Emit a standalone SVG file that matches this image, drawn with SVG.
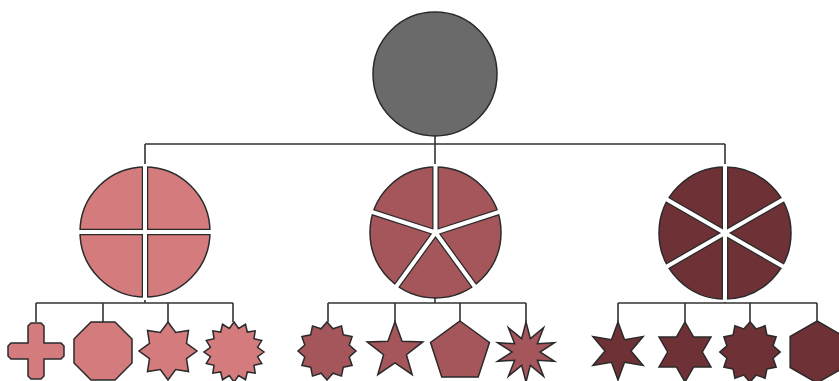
<svg xmlns="http://www.w3.org/2000/svg" width="839" height="381" viewBox="0 0 839 381">
<style>
.ln{fill:none;stroke:#333;stroke-width:1.6}
.sh{stroke:#2a2a2a;stroke-width:1.5;stroke-linejoin:miter}
.c0{fill:#6a6a6a}
.c1{fill:#d47b7d}
.c2{fill:#a5565b}
.c3{fill:#6e3136}
.gd{stroke:#2a2a2a;stroke-width:6.5;stroke-linecap:butt;fill:none}
.gw{stroke:#fff;stroke-width:4;stroke-linecap:butt;fill:none}
</style>
<defs>
<polygon id="cross" points="-8,-25 -5,-28 5,-28 8,-25 8,-8 25,-8 28,-5 28,5 25,8 8,8 8,25 5,28 -5,28 -8,25 -8,8 -25,8 -28,5 -28,-5 -25,-8 -8,-8"/>
<polygon id="oct" points="12.02,-29.01 29.01,-12.02 29.01,12.02 12.02,29.01 -12.02,29.01 -29.01,12.02 -29.01,-12.02 -12.02,-29.01"/>
<polygon id="star8" points="0,-29 7.65,-18.48 20.51,-20.51 18.48,-7.65 29,0 18.48,7.65 20.51,20.51 7.65,18.48 0,29 -7.65,18.48 -20.51,20.51 -18.48,7.65 -29,0 -18.48,-7.65 -20.51,-20.51 -7.65,-18.48"/>
<polygon id="star16" points="0,-30 4.68,-23.54 11.48,-27.72 13.33,-19.96 21.21,-21.21 19.96,-13.33 27.72,-11.48 23.54,-4.68 30,0 23.54,4.68 27.72,11.48 19.96,13.33 21.21,21.21 13.33,19.96 11.48,27.72 4.68,23.54 0,30 -4.68,23.54 -11.48,27.72 -13.33,19.96 -21.21,21.21 -19.96,13.33 -27.72,11.48 -23.54,4.68 -30,0 -23.54,-4.68 -27.72,-11.48 -19.96,-13.33 -21.21,-21.21 -13.33,-19.96 -11.48,-27.72 -4.68,-23.54"/>
<polygon id="star12" points="0,-29 5.95,-22.22 14.5,-25.11 16.26,-16.26 25.11,-14.5 22.22,-5.95 29,0 22.22,5.95 25.11,14.5 16.26,16.26 14.5,25.11 5.95,22.22 0,29 -5.95,22.22 -14.5,25.11 -16.26,16.26 -25.11,14.5 -22.22,5.95 -29,0 -22.22,-5.95 -25.11,-14.5 -16.26,-16.26 -14.5,-25.11 -5.95,-22.22"/>
<polygon id="star5" points="0,-29.3 7.05,-9.71 27.87,-9.05 11.41,3.71 17.22,23.7 0,12 -17.22,23.7 -11.41,3.71 -27.87,-9.05 -7.05,-9.71"/>
<polygon id="pent" points="0,-31 29.48,-9.58 18.22,25.08 -18.22,25.08 -29.48,-9.58"/>
<polygon id="star10" points="0,-30 4.33,-13.32 17.63,-24.27 11.33,-8.23 28.53,-9.27 14,0 28.53,9.27 11.33,8.23 17.63,24.27 4.33,13.32 0,30 -4.33,13.32 -17.63,24.27 -11.33,8.23 -28.53,9.27 -14,0 -28.53,-9.27 -11.33,-8.23 -17.63,-24.27 -4.33,-13.32"/>
<polygon id="star6" points="0,-29 6.5,-11.26 25.11,-14.5 13,0 25.11,14.5 6.5,11.26 0,29 -6.5,11.26 -25.11,14.5 -13,0 -25.11,-14.5 -6.5,-11.26"/>
<polygon id="david" points="0,-30 8.66,-15 25.98,-15 17.32,0 25.98,15 8.66,15 0,30 -8.66,15 -25.98,15 -17.32,0 -25.98,-15 -8.66,-15"/>
<polygon id="hex" points="0,-31 26.85,-15.5 26.85,15.5 0,31 -26.85,15.5 -26.85,-15.5"/>
</defs>
<rect width="839" height="381" fill="#fff"/>
<g id="connectors" class="ln">
<path d="M435,136V144M145,144H725M145,144V167M435,144V167M725,144V167"/>
<path d="M145,297V303M36,303H233M36,303V322M103,303V322M168,303V322M233,303V322"/>
<path d="M435,297V303M328,303H526M328,303V322M395,303V322M460,303V322M526,303V322"/>
<path d="M725,299V303M618,303H817M618,303V322M685,303V322M750,303V322M817,303V322"/>
</g>
<g id="root"><circle class="sh c0" cx="435" cy="74" r="62"/></g>
<g id="quarters">
<circle class="sh c1" cx="145" cy="232" r="65"/>
<path class="gd" d="M80,232H210M145,167V297"/>
<path class="gw" d="M77,232H213M145,164V300"/>
</g>
<g id="fifths">
<circle class="sh c2" cx="435.5" cy="232.5" r="65.5"/>
<path class="gd" d="M435.5,232.5V167M435.5,232.5L497.8,212.3M435.5,232.5L474,285.5M435.5,232.5L397,285.5M435.5,232.5L373.2,212.3"/>
<path class="gw" d="M435.5,232.5V164M435.5,232.5L500.7,211.3M435.5,232.5L475.8,288M435.5,232.5L395.2,288M435.5,232.5L370.3,211.3"/>
</g>
<g id="sixths">
<circle class="sh c3" cx="725" cy="233" r="66"/>
<path class="gd" d="M725,167V299M667.8,200L782.2,266M667.8,266L782.2,200"/>
<path class="gw" d="M725,164V302M665.2,198.5L784.8,267.5M665.2,267.5L784.8,198.5"/>
</g>
<g id="cross-node"><use href="#cross" class="sh c1" x="36" y="351"/></g>
<g id="octagon-node"><use href="#oct" class="sh c1" x="103" y="351"/></g>
<g id="star8-node"><use href="#star8" class="sh c1" x="168" y="351"/></g>
<g id="star16-node"><use href="#star16" class="sh c1" x="234" y="352"/></g>
<g id="star12-node"><use href="#star12" class="sh c2" x="327" y="351"/></g>
<g id="star5-node"><use href="#star5" class="sh c2" x="395" y="351"/></g>
<g id="pentagon-node"><use href="#pent" class="sh c2" x="460" y="352"/></g>
<g id="star10-node"><use href="#star10" class="sh c2" x="526" y="352"/></g>
<g id="star6-node"><use href="#star6" class="sh c3" x="618" y="351"/></g>
<g id="david-node"><use href="#david" class="sh c3" x="685" y="352"/></g>
<g id="star12b-node"><use href="#star12" class="sh c3" x="750" y="352" transform="translate(750 352) scale(1.04) translate(-750 -352)"/></g>
<g id="hexagon-node"><use href="#hex" class="sh c3" x="817" y="352"/></g>
</svg>
